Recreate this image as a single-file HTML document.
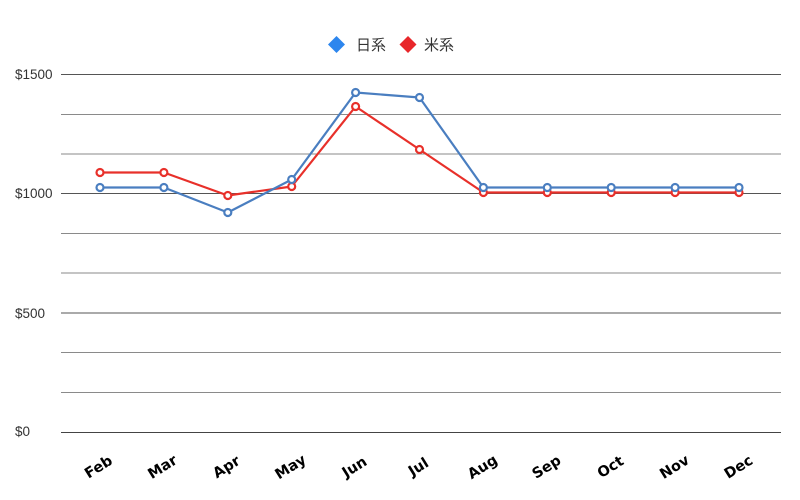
<!DOCTYPE html>
<html><head><meta charset="utf-8"><style>
html,body{margin:0;padding:0;background:#fff;}
svg{display:block;}
</style></head><body>
<svg width="800" height="500" viewBox="0 0 800 500" xmlns="http://www.w3.org/2000/svg">
<rect width="800" height="500" fill="#fff"/>
<!-- legend -->
<rect x="330.5" y="38.5" width="12" height="12" fill="#2d86ee" transform="rotate(45 336.5 44.5)"/>
<text x="356" y="50" font-family="'Liberation Sans','Noto Sans CJK JP',sans-serif" font-size="15" fill="#333">日系</text>
<rect x="402" y="38.5" width="12" height="12" fill="#e8262a" transform="rotate(45 408 44.5)"/>
<text x="424" y="50" font-family="'Liberation Sans','Noto Sans CJK JP',sans-serif" font-size="15" fill="#333">米系</text>
<!-- grid -->
<g stroke-width="1.2" shape-rendering="crispEdges">
<line x1="61" y1="74.5" x2="781" y2="74.5" stroke="#555"/>
<line x1="61" y1="114.5" x2="781" y2="114.5" stroke="#8a8a8a"/>
<line x1="61" y1="154" x2="781" y2="154" stroke="#8a8a8a"/>
<line x1="61" y1="193.5" x2="781" y2="193.5" stroke="#555"/>
<line x1="61" y1="233.5" x2="781" y2="233.5" stroke="#8a8a8a"/>
<line x1="61" y1="273" x2="781" y2="273" stroke="#8a8a8a"/>
<line x1="61" y1="313" x2="781" y2="313" stroke="#555"/>
<line x1="61" y1="352.5" x2="781" y2="352.5" stroke="#8a8a8a"/>
<line x1="61" y1="392.5" x2="781" y2="392.5" stroke="#8a8a8a"/>
<line x1="61" y1="432.5" x2="781" y2="432.5" stroke="#444"/>
</g>
<!-- y labels -->
<g font-family="'Liberation Sans',sans-serif" font-size="13.5" fill="#333">
<text x="15" y="79">$1500</text>
<text x="15" y="198">$1000</text>
<text x="15" y="318">$500</text>
<text x="15" y="436">$0</text>
</g>
<!-- x labels -->
<g font-family="'DejaVu Sans',sans-serif" font-size="14.5" font-weight="bold" fill="#000" text-anchor="middle">
<text transform="translate(101,471) rotate(-32)">Feb</text>
<text transform="translate(165,471) rotate(-32)">Mar</text>
<text transform="translate(229,471) rotate(-32)">Apr</text>
<text transform="translate(293,471) rotate(-32)">May</text>
<text transform="translate(357,471) rotate(-32)">Jun</text>
<text transform="translate(421,471) rotate(-32)">Jul</text>
<text transform="translate(485,471) rotate(-32)">Aug</text>
<text transform="translate(549,471) rotate(-32)">Sep</text>
<text transform="translate(613,471) rotate(-32)">Oct</text>
<text transform="translate(677,471) rotate(-32)">Nov</text>
<text transform="translate(741,471) rotate(-32)">Dec</text>
</g>
<!-- red series -->
<polyline fill="none" stroke="#e8302a" stroke-width="2.2" stroke-linejoin="round"
points="100,172.5 163.9,172.5 227.8,195.5 291.7,186.5 355.6,106.5 419.5,149.5 483.4,192.5 547.3,192.5 611.2,192.5 675.1,192.5 739,192.5"/>
<g fill="#fff" stroke="#e8302a" stroke-width="2.2">
<circle cx="100" cy="172.5" r="3.5"/><circle cx="163.9" cy="172.5" r="3.5"/><circle cx="227.8" cy="195.5" r="3.5"/><circle cx="291.7" cy="186.5" r="3.5"/><circle cx="355.6" cy="106.5" r="3.5"/><circle cx="419.5" cy="149.5" r="3.5"/><circle cx="483.4" cy="192.5" r="3.5"/><circle cx="547.3" cy="192.5" r="3.5"/><circle cx="611.2" cy="192.5" r="3.5"/><circle cx="675.1" cy="192.5" r="3.5"/><circle cx="739" cy="192.5" r="3.5"/>
</g>
<!-- blue series -->
<polyline fill="none" stroke="#4a7ec0" stroke-width="2.2" stroke-linejoin="round"
points="100,187.5 163.9,187.5 227.8,212.5 291.7,179.5 355.6,92.5 419.5,97.5 483.4,187.5 547.3,187.5 611.2,187.5 675.1,187.5 739,187.5"/>
<g fill="#fff" stroke="#4a7ec0" stroke-width="2.2">
<circle cx="100" cy="187.5" r="3.5"/><circle cx="163.9" cy="187.5" r="3.5"/><circle cx="227.8" cy="212.5" r="3.5"/><circle cx="291.7" cy="179.5" r="3.5"/><circle cx="355.6" cy="92.5" r="3.5"/><circle cx="419.5" cy="97.5" r="3.5"/><circle cx="483.4" cy="187.5" r="3.5"/><circle cx="547.3" cy="187.5" r="3.5"/><circle cx="611.2" cy="187.5" r="3.5"/><circle cx="675.1" cy="187.5" r="3.5"/><circle cx="739" cy="187.5" r="3.5"/>
</g>
</svg>
</body></html>
